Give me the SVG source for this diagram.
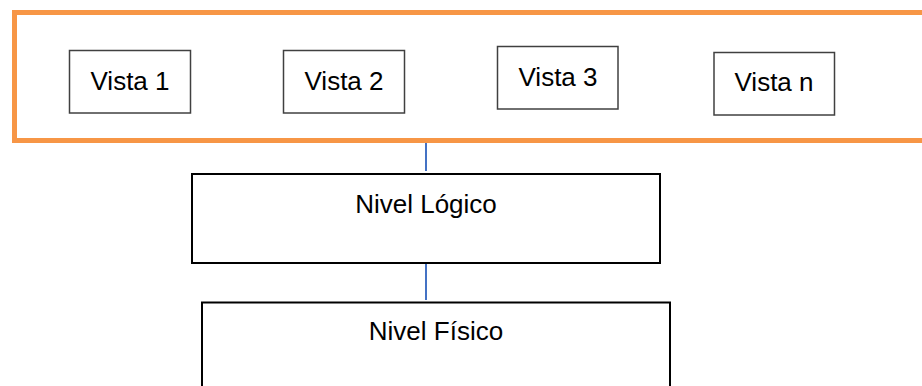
<svg xmlns="http://www.w3.org/2000/svg" width="922" height="386" viewBox="0 0 922 386">
  <style>
    .frame { fill: none; stroke: #F79646; stroke-width: 5; }
    .view { fill: #FFFFFF; stroke: #404040; stroke-width: 1.5; }
    .level { fill: #FFFFFF; stroke: #000000; stroke-width: 2; }
    .link { stroke: #4472C4; stroke-width: 2; fill: none; }
    .label { font-family: "Liberation Sans", Arial, sans-serif; font-size: 26px; fill: #000000; text-anchor: middle; }
  </style>
  <rect width="922" height="386" fill="#FFFFFF"/>

  <!-- views container -->
  <g id="views-frame">
    <rect class="frame" x="14.5" y="12.5" width="930" height="128"/>
  </g>

  <!-- connectors -->
  <g id="connectors">
    <line class="link" x1="426" y1="143" x2="426" y2="171"/>
    <line class="link" x1="426" y1="258" x2="426" y2="300"/>
  </g>

  <g id="vista-1">
    <rect class="view" x="69.5" y="50.5" width="121" height="62.5"/>
    <text class="label" x="130" y="89.5">Vista 1</text>
  </g>
  <g id="vista-2">
    <rect class="view" x="283.5" y="50.5" width="121" height="62.5"/>
    <text class="label" x="344" y="89.5">Vista 2</text>
  </g>
  <g id="vista-3">
    <rect class="view" x="497.5" y="46.5" width="120.5" height="62.5"/>
    <text class="label" x="558" y="85.5">Vista 3</text>
  </g>
  <g id="vista-n">
    <rect class="view" x="714" y="52.5" width="120.5" height="62.5"/>
    <text class="label" x="774" y="91">Vista n</text>
  </g>

  <g id="nivel-logico">
    <rect class="level" x="192" y="174" width="468" height="89"/>
    <text class="label" x="426" y="213">Nivel Lógico</text>
  </g>
  <g id="nivel-fisico">
    <rect class="level" x="202" y="302.5" width="468" height="100"/>
    <text class="label" x="436" y="340">Nivel Físico</text>
  </g>
</svg>
